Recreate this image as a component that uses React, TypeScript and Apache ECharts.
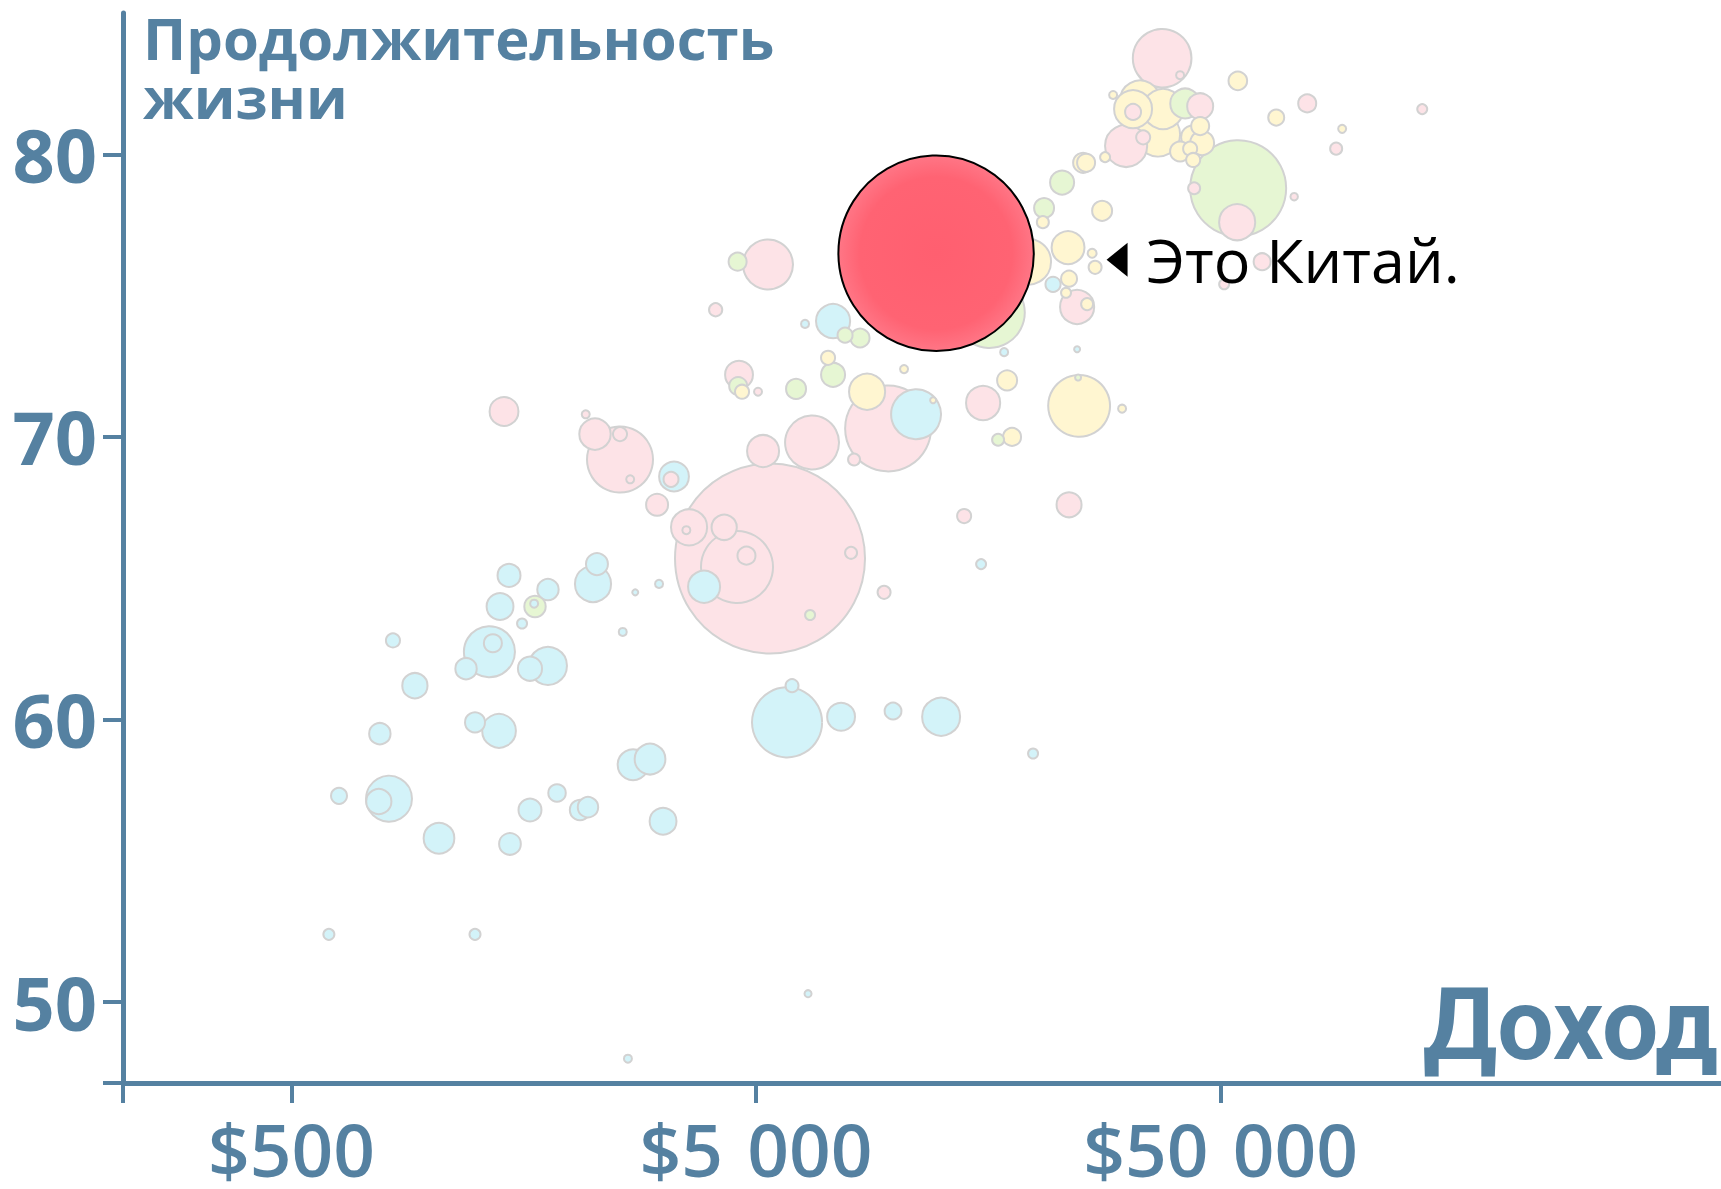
import React, { useEffect, useRef } from 'react';
import * as echarts from 'echarts';

// [income per person ($), life expectancy (years), population (millions)]
const africa: number[][] = [
  [602, 52.4, 4.4], [1242, 52.4, 4.4], [2650, 48.0, 2.3], [6470, 50.3, 1.8],
  [633, 57.3, 9.2], [811, 57.2, 76], [771, 57.1, 23], [1039, 55.8, 34],
  [1477, 55.6, 17], [1631, 56.8, 19], [1865, 57.4, 11], [2090, 56.8, 15],
  [2174, 56.9, 15], [3154, 56.4, 26], [2718, 58.4, 34], [2957, 58.6, 34],
  [775, 59.5, 16.5], [1242, 59.9, 14.4], [1399, 59.6, 41], [922, 61.2, 23],
  [827, 62.8, 7.1], [1188, 61.8, 16.5], [1334, 62.4, 94], [1357, 62.7, 11.7],
  [1631, 61.8, 21], [1783, 61.9, 52], [1406, 64.0, 26], [1470, 65.1, 19],
  [1568, 63.4, 3.6], [1783, 64.6, 16.5], [2229, 64.8, 47], [2273, 65.5, 17.4],
  [2583, 63.1, 2.3], [2748, 64.5, 1.3], [3092, 64.8, 2.3], [3865, 64.7, 37],
  [3330, 68.6, 32], [5831, 59.9, 177], [5977, 61.2, 6.1], [7621, 60.1, 28],
  [9860, 60.3, 10.2], [12513, 60.1, 52], [19736, 58.8, 3.6], [15256, 65.5, 3.6],
  [7325, 74.1, 42], [6375, 74.0, 2.3], [11053, 70.8, 90], [17100, 73.0, 2.3],
  [24552, 73.1, 1.3], [21790, 75.4, 8.3], [1665, 64.1, 2.3],
];

const asia: number[][] = [
  [1434, 70.9, 30], [2251, 70.1, 35.5], [2150, 70.8, 2.3], [2548, 69.2, 157],
  [2548, 70.1, 7.1], [2680, 68.5, 2.3], [3281, 68.5, 8.1], [3062, 67.6, 17.4],
  [3588, 66.8, 47], [3540, 66.7, 2.3], [4270, 66.8, 23], [4550, 65.4, 187],
  [4769, 65.8, 11.7], [5359, 65.7, 1301], [8008, 65.9, 5.2], [9432, 64.5, 6.1],
  [5178, 69.5, 37], [6600, 69.8, 105], [4596, 72.2, 28], [5050, 71.6, 2.3],
  [4093, 74.5, 6.3], [5306, 76.1, 90], [9621, 70.3, 266], [8128, 69.2, 5.2],
  [15408, 71.2, 42], [14025, 67.2, 7.1], [23590, 67.6, 22.5], [24552, 74.6, 42],
  [31300, 80.3, 64], [37420, 83.4, 124], [40900, 82.8, 2.3], [76800, 81.8, 11.7],
  [135800, 81.6, 3.6], [88640, 80.2, 5.2], [71990, 78.5, 2.0], [54270, 77.6, 47],
  [43848, 78.8, 5.2], [61420, 76.2, 10.4], [50880, 75.4, 3.6], [45180, 81.7, 24.4],
  [32399, 81.5, 9.2], [34060, 80.6, 7.1],
];

const europe: number[][] = [
  [24797, 71.1, 138], [30682, 71.0, 2.3], [8670, 71.6, 47], [7145, 72.8, 7.1],
  [4665, 71.6, 7.1], [10413, 72.4, 2.3], [12026, 71.3, 1.3], [17354, 72.0, 14.4],
  [17786, 70.0, 11.7], [25800, 74.7, 5.2], [23240, 75.1, 3.6], [23590, 75.6, 9.2],
  [26450, 76.5, 2.9], [26843, 76.0, 6.1], [23473, 76.7, 39], [19256, 76.2, 76],
  [27790, 78.0, 14.4], [20717, 77.6, 5.2], [25293, 79.7, 14.4], [25669, 79.7, 11.7],
  [28204, 79.9, 3.6], [29349, 82.1, 2.3], [33546, 81.9, 58], [32399, 81.6, 52],
  [37595, 81.6, 58], [36673, 80.7, 70], [45180, 81.0, 11.7], [43636, 80.6, 20.8],
  [40900, 80.1, 14.4], [42990, 80.2, 7.1], [43636, 79.8, 7.1], [45617, 80.4, 20.8],
  [54450, 82.6, 12.5], [65860, 81.3, 9.2], [91320, 80.9, 2.3],
];

const americas: number[][] = [
  [54540, 78.8, 332], [41937, 81.8, 32], [22790, 79.0, 20.8], [20845, 78.1, 14.4],
  [15900, 74.4, 180], [7773, 73.6, 8.1], [8373, 73.5, 13], [7325, 72.2, 20.8],
  [6097, 71.7, 14.4], [4577, 71.8, 11.7], [4564, 76.2, 11.7], [16596, 69.9, 5.2],
  [6536, 63.7, 3.6], [1672, 64.0, 16.5], [24670, 72.1, 1.3],
];

const china: number[] = [12205, 76.5, 1376];

const xTickIncomes: number[] = [500, 5000, 50000];
const yTickValues: number[] = [50, 60, 70, 80];
const X_MIN_INCOME = 217;
const X_MAX_INCOME = 597000;
const Y_MIN = 47.14;
const Y_MAX = 85;

const AXIS_COLOR = '#5581a1';
const BORDER = '#d2d2d2';
const REGION_COLORS: Record<string, string> = {
  africa: '#d3f3f9',
  asia: '#fde3e7',
  europe: '#fff6d1',
  americas: '#e6f6d3',
};

const bubbleSize = (pop: number) => 195.4 * Math.sqrt(pop / 1376);

function fmtIncome(v: number): string {
  const n = Math.round(Math.pow(10, v));
  return '$' + String(n).replace(/\B(?=(\d{3})+(?!\d))/g, '\u2004');
}

export default function App() {
  const ref = useRef<HTMLDivElement>(null);

  useEffect(() => {
    if (!ref.current) return;
    const chart = echarts.init(ref.current, undefined, { renderer: 'svg' });

    const groups: [number[][], string][] = [
      [africa, REGION_COLORS.africa],
      [asia, REGION_COLORS.asia],
      [europe, REGION_COLORS.europe],
      [americas, REGION_COLORS.americas],
    ];
    const items: any[] = [];
    groups.forEach(([rows, color]) => {
      rows.forEach((r) => {
        items.push({
          value: [Math.log10(r[0]), r[1]],
          symbolSize: bubbleSize(r[2]),
          itemStyle: { color, borderColor: BORDER, borderWidth: 2, opacity: 1 },
          pop: r[2],
        });
      });
    });
    items.sort((a, b) => b.pop - a.pop);

    const xMin = Math.log10(X_MIN_INCOME);
    const xMax = Math.log10(X_MAX_INCOME);
    const xTicks = xTickIncomes.map((v) => Math.log10(v));
    const chinaPoint = [Math.log10(china[0]), china[1]];

    chart.setOption({
      animation: false,
      grid: { left: 123, right: 0, top: 13, bottom: 106, containLabel: false },
      xAxis: {
        type: 'value',
        min: xMin,
        max: xMax,
        splitLine: { show: false },
        axisLine: { show: true, lineStyle: { color: AXIS_COLOR, width: 5 } },
        axisTick: {
          show: true,
          length: 20,
          customValues: [xMin, ...xTicks],
          lineStyle: { color: AXIS_COLOR, width: 4 },
        },
        axisLabel: {
          customValues: xTicks,
          formatter: (v: number) => fmtIncome(v),
          fontFamily: '"Open Sans"',
          fontWeight: 600,
          fontSize: 73,
          lineHeight: 73,
          color: AXIS_COLOR,
          margin: 29,
        },
      },
      yAxis: {
        type: 'value',
        min: Y_MIN,
        max: Y_MAX,
        splitLine: { show: false },
        axisLine: { show: true, lineStyle: { color: AXIS_COLOR, width: 5 } },
        axisTick: {
          show: true,
          length: 20,
          customValues: [Y_MIN, ...yTickValues],
          lineStyle: { color: AXIS_COLOR, width: 4 },
        },
        axisLabel: {
          customValues: yTickValues,
          formatter: (v: number) => String(Math.round(v)),
          fontFamily: '"Open Sans"',
          fontWeight: 700,
          fontSize: 74,
          color: AXIS_COLOR,
          margin: 26,
        },
      },
      graphic: [
        {
          type: 'text',
          x: 143,
          y: 8,
          silent: true,
          style: {
            text: 'Продолжительность\nжизни',
            fontFamily: '"Open Sans"',
            fontWeight: 700,
            fontSize: 58,
            lineHeight: 59,
            fill: AXIS_COLOR,
            align: 'left',
            verticalAlign: 'top',
          },
        },
        {
          type: 'text',
          x: 1718,
          y: 1024,
          silent: true,
          style: {
            text: 'Доход',
            fontFamily: 'Roboto',
            fontWeight: 700,
            fontSize: 100,
            fill: AXIS_COLOR,
            align: 'right',
            verticalAlign: 'middle',
          },
        },
      ],
      series: [
        {
          type: 'scatter',
          silent: true,
          data: items,
          itemStyle: { opacity: 1 },
          emphasis: { disabled: true },
        },
        {
          type: 'scatter',
          silent: true,
          data: [
            {
              value: chinaPoint,
              symbolSize: bubbleSize(china[2]),
              itemStyle: {
                opacity: 1,
                color: {
                  type: 'radial',
                  x: 0.5,
                  y: 0.5,
                  r: 0.5,
                  colorStops: [
                    { offset: 0, color: '#ff5f70' },
                    { offset: 0.78, color: '#ff6373' },
                    { offset: 1, color: '#ff7686' },
                  ],
                },
                borderColor: '#000',
                borderWidth: 2,
              },
            },
          ],
          emphasis: { disabled: true },
        },
        {
          type: 'scatter',
          silent: true,
          symbol: 'path://M21 0 L21 34 L0 17 Z',
          symbolSize: [21, 34],
          symbolOffset: [181, 6.5],
          itemStyle: { color: '#000', opacity: 1 },
          label: {
            show: true,
            position: 'right',
            distance: 19,
            formatter: 'Это Китай.',
            fontFamily: '"Open Sans"',
            fontWeight: 500,
            fontSize: 61,
            color: '#000',
          },
          data: [{ value: chinaPoint }],
          emphasis: { disabled: true },
        },
      ],
    });

    return () => chart.dispose();
  }, []);

  return (
    <div
      ref={ref}
      style={{ position: 'fixed', left: 0, top: 0, width: 1721, height: 1189, background: '#fff' }}
    />
  );
}
